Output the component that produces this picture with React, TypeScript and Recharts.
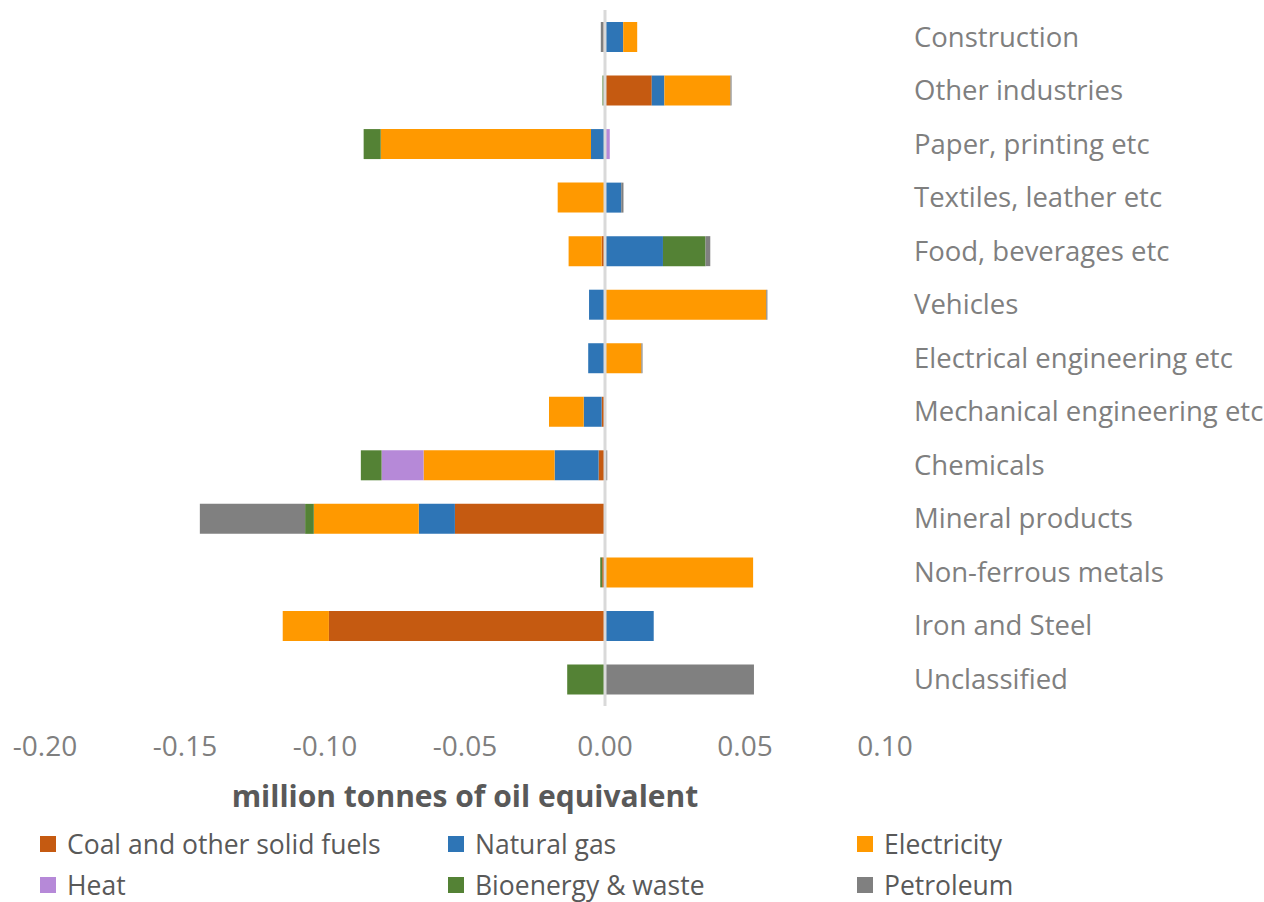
import React from 'react';
import { BarChart, Bar, XAxis, YAxis, ReferenceLine, Legend } from 'recharts';

const categories = [
  'Construction',
  'Other industries',
  'Paper, printing etc',
  'Textiles, leather etc',
  'Food, beverages etc',
  'Vehicles',
  'Electrical engineering etc',
  'Mechanical engineering etc',
  'Chemicals',
  'Mineral products',
  'Non-ferrous metals',
  'Iron and Steel',
  'Unclassified',
];

const coal = [-0.0005, 0.0167, 0, 0, -0.0012, 0, 0, -0.0012, -0.0023, -0.0536, -0.001, -0.0986, 0];
const naturalGas = [0.0065, 0.0045, -0.005, 0.0058, 0.0207, -0.0057, -0.006, -0.0064, -0.0157, -0.0129, 0, 0.0174, -0.0003];
const electricity = [0.005, 0.0236, -0.0751, -0.0169, -0.0118, 0.0576, 0.013, -0.0124, -0.0468, -0.0375, 0.0529, -0.0165, 0];
const heat = [0, -0.0005, 0.0017, 0, 0, 0, 0, 0, -0.015, 0, 0, 0, 0];
const bioenergy = [0, -0.0004, -0.0061, 0, 0.0152, 0, 0, 0, -0.0074, -0.0031, -0.0007, 0, -0.0132];
const petroleum = [-0.001, 0.0004, 0, 0.0008, 0.0017, 0.0004, 0.0004, 0, 0.0008, -0.0376, 0, 0, 0.0532];

const xTicks = [-0.2, -0.15, -0.1, -0.05, 0, 0.05, 0.1];

const series = [
  { key: 'coal', name: 'Coal and other solid fuels', color: '#C55A11', values: coal },
  { key: 'gas', name: 'Natural gas', color: '#2E75B6', values: naturalGas },
  { key: 'electricity', name: 'Electricity', color: '#FF9900', values: electricity },
  { key: 'heat', name: 'Heat', color: '#B689D8', values: heat },
  { key: 'bio', name: 'Bioenergy & waste', color: '#548235', values: bioenergy },
  { key: 'petroleum', name: 'Petroleum', color: '#808080', values: petroleum },
];

// legend is laid out in the same grid as the original: 3 columns, 2 rows
const legendOrder = ['coal', 'gas', 'electricity', 'heat', 'bio', 'petroleum'];
const legendCols = [40, 448, 857];

const data = categories.map((name, i) => {
  const row: Record<string, any> = { name };
  series.forEach((s) => {
    row[s.key] = s.values[i];
  });
  return row;
});

const FONT = '"Open Sans", "DejaVu Sans", sans-serif';

const CustomLegend = () => (
  <div style={{ position: 'relative', width: 1264, height: 70, fontFamily: FONT }}>
    {legendOrder.map((key, i) => {
      const s = series.find((x) => x.key === key)!;
      const col = i % 3;
      const row = Math.floor(i / 3);
      return (
        <div
          key={key}
          style={{
            position: 'absolute',
            left: legendCols[col],
            top: row * 41,
            height: 30,
            lineHeight: '30px',
            display: 'flex',
            alignItems: 'center',
            whiteSpace: 'nowrap',
          }}
        >
          <span style={{ width: 16, height: 16, background: s.color, display: 'inline-block', marginRight: 11 }} />
          <span style={{ fontSize: 26.5, color: '#595959' }}>{s.name}</span>
        </div>
      );
    })}
  </div>
);

export default function App() {
  return (
    <div style={{ width: 1264, height: 902, overflow: 'hidden' }}>
      <style>{'body { margin: 0; }'}</style>
      <BarChart
        width={1264}
        height={902}
        data={data}
        layout="vertical"
        stackOffset="sign"
        barSize={30}
        margin={{ top: 10, right: 0, left: 45, bottom: 0 }}
        style={{ fontFamily: FONT }}
      >
        <XAxis
          type="number"
          domain={[-0.2, 0.1]}
          ticks={xTicks}
          tickFormatter={(v: number) => v.toFixed(2)}
          axisLine={false}
          tickLine={false}
          tickSize={0}
          tickMargin={30}
          height={196}
          tick={{ fontSize: 28, fill: '#7f7f7f' }}
          label={{
            value: 'million tonnes of oil equivalent',
            position: 'insideTop',
            offset: 80,
            style: { fontSize: 30, fontWeight: 700, fill: '#595959' },
          }}
        />
        <YAxis
          type="category"
          dataKey="name"
          orientation="right"
          width={379}
          axisLine={false}
          tickLine={false}
          tickSize={0}
          tickMargin={29}
          interval={0}
          tick={{ fontSize: 27.5, fill: '#7f7f7f' }}
        />
        {series.map((s) => (
          <Bar
            key={s.key}
            dataKey={s.key}
            name={s.name}
            stackId="a"
            fill={s.color}
            isAnimationActive={false}
          />
        ))}
        <ReferenceLine x={0} stroke="#d9d9d9" strokeWidth={3} />
        <Legend
          layout="horizontal"
          verticalAlign="middle"
          align="center"
          content={<CustomLegend />}
          wrapperStyle={{ top: 829, left: 0, width: 1264 }}
        />
      </BarChart>
    </div>
  );
}
